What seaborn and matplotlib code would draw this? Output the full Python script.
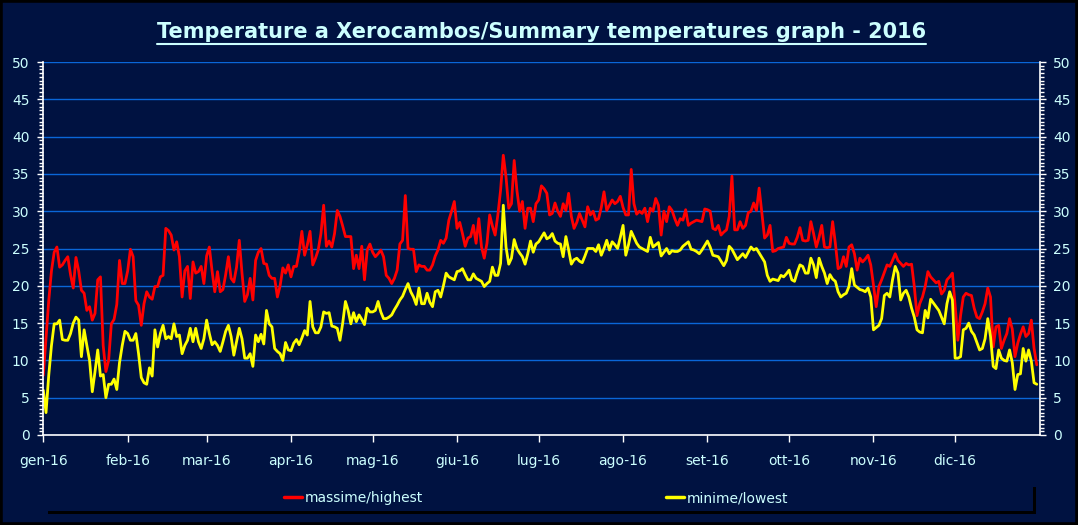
import matplotlib
matplotlib.use("Agg")
import matplotlib.pyplot as plt
from matplotlib.patches import Rectangle
from matplotlib.lines import Line2D
from matplotlib.ticker import MultipleLocator
import pandas as pd
import seaborn as sns

title = "Temperature a Xerocambos/Summary temperatures graph - 2016"
month_labels = ["gen-16", "feb-16", "mar-16", "apr-16", "mag-16", "giu-16",
                "lug-16", "ago-16", "set-16", "ott-16", "nov-16", "dic-16"]
series_names = ["massime/highest", "minime/lowest"]

# daily maximum, 1 Jan - 31 Dec 2016
highest = [
    8, 13, 18, 22, 24.5, 25.2, 22.5, 22.8, 23.4, 23.9,
    21.5, 19.7, 23.8, 22, 19.4, 19, 16.7, 17.2, 15.4, 16.3,
    20.8, 21.2, 12, 8.5, 10, 14.9, 15.5, 17.5, 23.4, 20.3,
    20.3, 22, 24.9, 23.9, 18, 17.4, 14.7, 17.6, 19.2, 18.5,
    18.2, 19.9, 19.9, 21.2, 21.4, 27.7, 27.4, 26.8, 24.8, 25.9,
    23.9, 18.5, 22, 22.6, 18.3, 23.2, 21.7, 21.9, 22.6, 20.3,
    24, 25.2, 22, 19.2, 21.9, 19.2, 19.5, 21.5, 23.9, 21,
    20.5, 22.5, 26.1, 21.7, 17.9, 18.8, 21, 18.1, 23.4, 24.5,
    25, 23, 22.9, 21.4, 21, 21, 18.5, 20, 22.4, 21.7,
    22.8, 21.2, 22.6, 22.6, 24.5, 27.3, 24.1, 25.5, 27.3, 22.8,
    23.7, 24.8, 27, 30.8, 25.3, 26, 25.2, 27, 30.1, 29.3,
    28, 26.6, 26.6, 26.6, 22.3, 24.1, 22.3, 25.3, 20.8, 24.8,
    25.6, 24.5, 23.9, 24.3, 24.8, 23.9, 21.4, 21, 20.3, 21,
    22.1, 25.6, 26.1, 32.1, 25, 24.9, 24.9, 21.9, 22.8, 22.6,
    22.6, 22.1, 22.1, 22.8, 24, 24.8, 26.1, 25.7, 26.4, 28.8,
    30, 31.3, 27.7, 28.5, 27, 25.3, 26.4, 26.6, 28.1, 25.7,
    29, 25.2, 23.7, 25.7, 29.5, 28, 26.8, 29.5, 32.8, 37.5,
    34.6, 30.4, 31, 36.8, 32.8, 30, 31.3, 27.7, 30.4, 30.4,
    28.6, 31, 31.5, 33.4, 33, 32.4, 29.5, 29.7, 31.1, 30,
    29.3, 31, 30.1, 32.4, 29.3, 27.7, 28.5, 29.7, 28.8, 27.9,
    30.6, 29.5, 30, 28.8, 29, 30.5, 32.6, 30.1, 30.8, 31.5,
    31, 31.3, 32, 30.5, 29.5, 29.5, 35.6, 31, 29.6, 30,
    29.7, 30.4, 28.6, 30.4, 30, 31.7, 30.8, 26.8, 30, 28.6,
    30.6, 30.1, 29, 28.1, 29, 28.8, 30.2, 28.1, 28.4, 28.6,
    28.8, 28.7, 28.6, 30.3, 30.2, 30, 27.7, 27.5, 28.1, 26.8,
    27.2, 27.5, 29.3, 34.7, 27.5, 27.5, 28.6, 27.7, 28.1, 29.8,
    30, 31.1, 30.1, 33.1, 29.7, 26.4, 26.8, 28.1, 24.6, 24.7,
    25, 25.1, 25.2, 26.5, 25.7, 25.6, 25.6, 26.5, 27.8, 26.1,
    26, 26.1, 28.6, 27, 25.2, 26.5, 28.1, 25.2, 25.1, 25.2,
    28.6, 25.7, 22.3, 22.5, 23.9, 22.6, 25.2, 25.5, 24.3, 22.1,
    23.7, 23.2, 23.6, 24.1, 22.8, 20.1, 17.2, 19.9, 20.8, 21.8,
    22.8, 22.6, 23.4, 24.3, 23.4, 23, 22.6, 23, 22.8, 22.9,
    19.9, 16, 17.6, 18.5, 19.9, 21.9, 21.2, 20.8, 20.4, 20.6,
    18.9, 19.4, 20.8, 21.2, 21.7, 17.4, 12.7, 16, 18.5, 19,
    18.8, 18.7, 17, 15.8, 15.6, 16.5, 17.6, 19.7, 18.5, 11.8,
    14.5, 14.7, 11.6, 12.7, 13.6, 15.6, 14.2, 10.5, 12.3, 13.5,
    14.5, 13.2, 13.6, 15.4, 11.6, 9.4,
]

# daily minimum
lowest = [
    6, 3, 8, 12, 14.9, 14.9, 15.4, 12.8, 12.7, 12.7,
    13.6, 15, 15.8, 15.4, 10.5, 14.1, 12, 10, 5.8, 8.5,
    11.4, 7.9, 8.1, 5, 6.8, 6.8, 7.5, 6.1, 9.7, 12,
    13.9, 13.6, 12.7, 12.7, 13.6, 10.9, 7.7, 7, 6.8, 9,
    7.9, 14.1, 11.8, 13.6, 14.7, 12.9, 13.2, 12.9, 14.9, 13.2,
    13.4, 10.9, 12, 12.7, 14.3, 12.5, 14.3, 12.5, 11.6, 12.9,
    15.4, 13.6, 12.1, 12.5, 12, 11.2, 12.5, 13.9, 14.7, 13.2,
    10.7, 12.5, 14.3, 12.9, 10.3, 10.3, 10.9, 9.2, 13.4, 12.5,
    13.5, 12.2, 16.7, 14.9, 14.5, 11.6, 11.2, 10.9, 10, 12.4,
    11.4, 11.3, 12.3, 12.8, 12.1, 13, 14, 13.4, 17.9, 14.5,
    13.7, 13.7, 14.5, 16.5, 16.3, 16.4, 14.6, 14.5, 14.3, 12.7,
    15, 17.9, 16.7, 14.9, 16.4, 15.2, 16.1, 15.5, 14.8, 17,
    16.5, 16.5, 16.7, 17.9, 16.5, 15.6, 15.6, 15.8, 16.1, 16.8,
    17.4, 18.1, 18.6, 19.5, 20.3, 19.2, 18.5, 17.5, 19.7, 17.6,
    17.6, 19, 17.8, 17.2, 19.2, 19.4, 18.5, 20, 21.7, 21.2,
    21, 20.8, 21.9, 22, 22.3, 21.5, 20.8, 20.8, 21.6, 21,
    20.8, 20.6, 19.9, 20.3, 20.6, 22.5, 21.4, 21.4, 23, 30.8,
    25.2, 22.9, 23.7, 26.2, 25, 24.4, 23.9, 22.9, 24.3, 26,
    24.5, 25.6, 25.9, 26.5, 27.1, 26.3, 26.5, 27, 26, 25.7,
    25.6, 23.9, 26.6, 24.8, 22.9, 23.5, 23.7, 23.3, 23.1, 24,
    25, 25, 25, 24.6, 25.5, 24.1, 25, 26.1, 24.8, 25.9,
    25.5, 25, 26.5, 28.1, 24.1, 25.5, 27.3, 26.5, 25.7, 25.2,
    25, 24.8, 24.6, 26.5, 25.2, 25.5, 25.8, 24, 24.5, 25,
    24.3, 24.7, 24.6, 24.6, 24.8, 25.3, 25.6, 25.9, 24.9, 24.8,
    24.6, 24.3, 24.8, 25.4, 26, 25.2, 24.1, 24, 23.9, 23.3,
    22.7, 23.4, 25.3, 24.9, 24.2, 23.5, 23.9, 24.3, 23.8, 24.5,
    25.2, 24.8, 25, 24.4, 23.8, 23.2, 21.4, 20.6, 20.9, 20.8,
    20.7, 21.4, 21.2, 21.6, 22.1, 20.8, 20.6, 21.8, 22.8, 22.6,
    21.7, 21.7, 23.7, 22.8, 21.1, 23.7, 22.6, 21.7, 20.3, 21.5,
    20.9, 20.6, 19.2, 18.5, 18.8, 19, 19.9, 22.3, 20.1, 19.8,
    19.5, 19.4, 19.2, 19.7, 18.5, 14.1, 14.4, 14.7, 15.6, 18.7,
    19, 18.5, 20.8, 22.6, 21.7, 18.1, 19, 19.4, 18.5, 17,
    15.8, 14.1, 13.8, 13.7, 16.7, 15.7, 18.2, 17.7, 17.2, 16.7,
    15.8, 14.9, 17.6, 19.2, 18.1, 10.3, 10.3, 10.5, 14.1, 14.3,
    15, 13.9, 13.4, 12.4, 11.4, 11.6, 12.9, 15.6, 13.2, 9.2,
    8.9, 11.4, 10.3, 10, 9.9, 11.4, 9.7, 6.1, 8.1, 8.2,
    11.6, 9.9, 11.4, 9.9, 7, 6.8,
]

bg = "#001241"
grid_col = "#0a66d8"
label_col = "#ccffff"

days = pd.date_range("2016-01-01", periods=len(highest), freq="D")
df = pd.DataFrame({"giorno": days, series_names[0]: highest, series_names[1]: lowest})
long_df = df.melt(id_vars="giorno", var_name="serie", value_name="temp")

sns.set_theme(style="dark")
plt.rcParams["font.family"] = ["DejaVu Sans"]

fig = plt.figure(figsize=(10.78, 5.25), dpi=100, facecolor=bg)
ax = fig.add_axes([43.3 / 1078, 1 - 435 / 525, (1039.5 - 43.3) / 1078, (435 - 62) / 525])
ax.set_facecolor(bg)

palette = {series_names[0]: "#ff0000", series_names[1]: "#ffff00"}
sns.lineplot(data=long_df, x="giorno", y="temp", hue="serie", palette=palette,
             linewidth=2, ax=ax, legend=False)

ax.set_ylim(0, 50)
ax.set_xlim(days[0], days[0] + pd.Timedelta(days=366))
ax.set_yticks(range(0, 51, 5))
ax.yaxis.set_minor_locator(MultipleLocator(0.5))
ax.set_xticks(pd.date_range("2016-01-01", periods=12, freq="MS"))
ax.set_xticklabels(month_labels)
ax.set_xlabel("")
ax.set_ylabel("")

ax.grid(False)
ax.yaxis.grid(True, which="major", color=grid_col, linewidth=1)
ax.set_axisbelow(True)

for side in ["left", "right", "bottom"]:
    ax.spines[side].set_visible(True)
    ax.spines[side].set_color("white")
    ax.spines[side].set_linewidth(1.2)
ax.spines["top"].set_visible(False)

ax.tick_params(axis="y", which="both", left=True, right=True, labelleft=True,
               labelright=True, direction="out", color="white", labelcolor=label_col,
               labelsize=10)
ax.tick_params(axis="y", which="major", length=4, width=1, pad=6)
ax.tick_params(axis="y", which="minor", length=3, width=1)
ax.tick_params(axis="x", which="major", bottom=True, direction="out", length=5,
               width=1, color="white", labelcolor=label_col, labelsize=10, pad=9)

# legend box with black drop shadow
fig.patches.append(Rectangle((48 / 1078, 1 - 514 / 525), 988 / 1078, 27 / 525,
                             transform=fig.transFigure, facecolor="black",
                             edgecolor="none", zorder=0))
fig.patches.append(Rectangle((43 / 1078, 1 - 511 / 525), 990 / 1078, 27 / 525,
                             transform=fig.transFigure, facecolor=bg,
                             edgecolor="none", zorder=1))
handles = [Line2D([], [], color=palette[n], linewidth=2.5) for n in series_names]
leg = fig.legend(handles, series_names, loc="center", bbox_to_anchor=(0.497, 1 - 498 / 525),
                 ncol=2, frameon=False, handlelength=1.3, handletextpad=0.2,
                 columnspacing=17.5, fontsize=10)
for t in leg.get_texts():
    t.set_color(label_col)

# title with underline
ttl = fig.text(0.502, 1 - 32 / 525, title, ha="center", va="center",
               fontsize=15, fontweight="bold", color=label_col)
fig.canvas.draw()
bb = ttl.get_window_extent().transformed(fig.transFigure.inverted())
fig.add_artist(Line2D([bb.x0, bb.x1], [bb.y0 - 0.004, bb.y0 - 0.004],
                      transform=fig.transFigure, color=label_col, linewidth=1.5))

# outer black frame
fig.patches.append(Rectangle((0, 0), 1, 1, transform=fig.transFigure, fill=False,
                             edgecolor="black", linewidth=4, zorder=5))

fig.savefig("out.png", dpi=100, facecolor=bg)
